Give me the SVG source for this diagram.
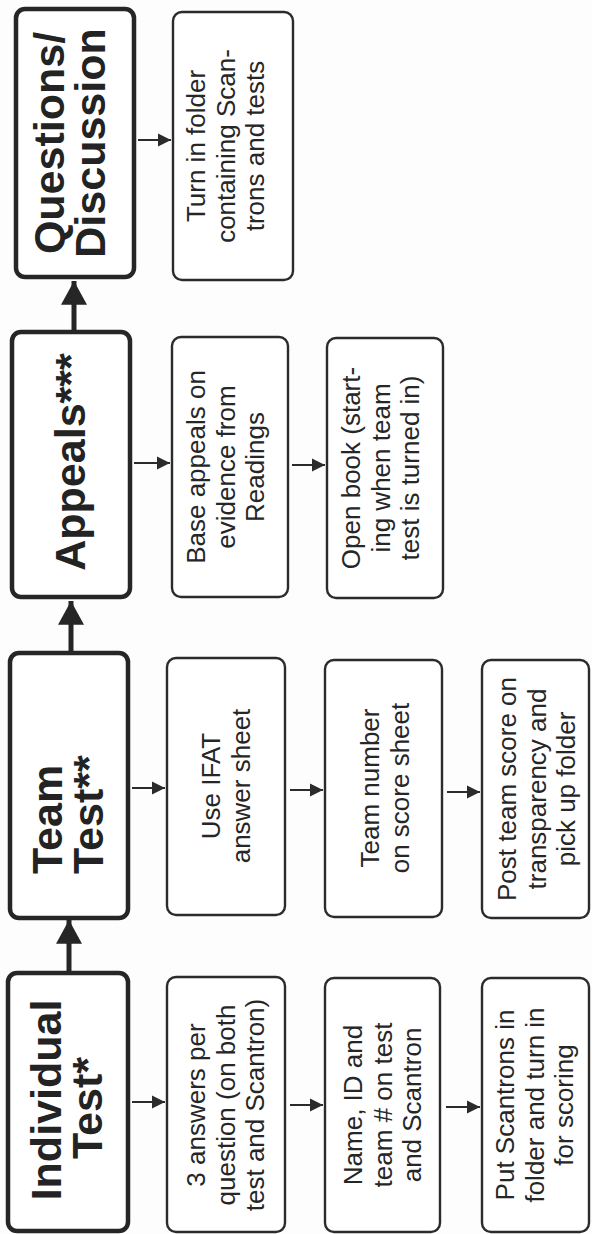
<svg xmlns="http://www.w3.org/2000/svg" width="592" height="1234" viewBox="0 0 592 1234">
<style>
.hdr{fill:#fff;stroke:#262626;stroke-width:4.5}
.sub{fill:#fff;stroke:#2b2b2b;stroke-width:2.4}
.ht{font-family:"Liberation Sans",Arial,sans-serif;font-weight:bold;font-size:43px;fill:#232323}
.st{font-family:"Liberation Sans",Arial,sans-serif;font-size:26px;fill:#262626;text-anchor:middle}
.big{stroke:#262626;stroke-width:5;fill:none}
.sm{stroke:#2b2b2b;stroke-width:2.2;fill:none}
</style>
<defs>
<marker id="bigHead" markerUnits="userSpaceOnUse" markerWidth="26" markerHeight="26" refX="22" refY="12" orient="auto" viewBox="0 0 24 24">
<path d="M0,0 L22,12 L0,24 Z" fill="#262626"/>
</marker>
<marker id="smHead" markerUnits="userSpaceOnUse" markerWidth="14" markerHeight="14" refX="13" refY="6.5" orient="auto" viewBox="0 0 14 13">
<path d="M0,0 L13,6.5 L0,13 Z" fill="#2b2b2b"/>
</marker>
</defs>
<rect width="592" height="1234" fill="#fdfdfd"/>

<g id="connectors">
<line class="big" x1="69" y1="971" x2="69" y2="920" marker-end="url(#bigHead)"/>
<line class="big" x1="71" y1="651" x2="71" y2="601" marker-end="url(#bigHead)"/>
<line class="big" x1="74" y1="330" x2="74" y2="281" marker-end="url(#bigHead)"/>

<line class="sm" x1="138" y1="140" x2="171" y2="140" marker-end="url(#smHead)"/>
<line class="sm" x1="134" y1="463" x2="170" y2="463" marker-end="url(#smHead)"/>
<line class="sm" x1="292" y1="465" x2="325" y2="465" marker-end="url(#smHead)"/>
<line class="sm" x1="132" y1="788" x2="165" y2="788" marker-end="url(#smHead)"/>
<line class="sm" x1="290" y1="790" x2="323" y2="790" marker-end="url(#smHead)"/>
<line class="sm" x1="447" y1="792" x2="480" y2="792" marker-end="url(#smHead)"/>
<line class="sm" x1="132" y1="1102" x2="165" y2="1102" marker-end="url(#smHead)"/>
<line class="sm" x1="290" y1="1105" x2="323" y2="1105" marker-end="url(#smHead)"/>
<line class="sm" x1="446" y1="1107" x2="480" y2="1107" marker-end="url(#smHead)"/>
</g>

<g id="individual-test">
<rect class="hdr" x="8" y="973" width="120" height="258" rx="9"/>
<g transform="translate(0,1100) rotate(-90)">
<text class="ht" x="0" y="61" text-anchor="middle">Individual</text>
<text class="ht" x="-8" y="102" text-anchor="middle">Test*</text>
</g>
</g>

<g id="team-test">
<rect class="hdr" x="10" y="653" width="118" height="265" rx="9"/>
<g transform="translate(0,874) rotate(-90)">
<text class="ht" x="0" y="62" text-anchor="start">Team</text>
<text class="ht" x="0" y="103" text-anchor="start">Test**</text>
</g>
</g>

<g id="appeals">
<rect class="hdr" x="12" y="332" width="118" height="265" rx="9"/>
<text class="ht" transform="translate(85,462) rotate(-90)" text-anchor="middle">Appeals***</text>
</g>

<g id="questions-discussion">
<rect class="hdr" x="16" y="9" width="118" height="268" rx="9"/>
<g transform="translate(0,143) rotate(-90)">
<text class="ht" x="0" y="64" text-anchor="middle">Questions/</text>
<text class="ht" x="0" y="105" text-anchor="middle">Discussion</text>
</g>
</g>

<g id="turn-in-folder">
<rect class="sub" x="173" y="12" width="120" height="268" rx="9"/>
<g transform="translate(0,146) rotate(-90)">
<text class="st" x="0" y="205">Turn in folder</text>
<text class="st" x="0" y="235">containing Scan-</text>
<text class="st" x="0" y="264">trons and tests</text>
</g>
</g>

<g id="base-appeals">
<rect class="sub" x="172" y="337" width="116" height="260" rx="9"/>
<g transform="translate(0,467) rotate(-90)">
<text class="st" x="0" y="205">Base appeals on</text>
<text class="st" x="0" y="235">evidence from</text>
<text class="st" x="0" y="264">Readings</text>
</g>
</g>

<g id="open-book">
<rect class="sub" x="327" y="338" width="116" height="260" rx="9"/>
<g transform="translate(0,468) rotate(-90)">
<text class="st" x="0" y="360">Open book (start-</text>
<text class="st" x="0" y="390">ing when team</text>
<text class="st" x="0" y="419">test is turned in)</text>
</g>
</g>

<g id="use-ifat">
<rect class="sub" x="167" y="658" width="118" height="257" rx="9"/>
<g transform="translate(0,786) rotate(-90)">
<text class="st" x="0" y="220">Use IFAT</text>
<text class="st" x="0" y="250">answer sheet</text>
</g>
</g>

<g id="team-number">
<rect class="sub" x="325" y="660" width="117" height="257" rx="9"/>
<g transform="translate(0,788) rotate(-90)">
<text class="st" x="0" y="379">Team number</text>
<text class="st" x="0" y="409">on score sheet</text>
</g>
</g>

<g id="post-team-score">
<rect class="sub" x="482" y="660" width="107" height="258" rx="9"/>
<g transform="translate(0,789) rotate(-90)">
<text class="st" x="0" y="516">Post team score on</text>
<text class="st" x="0" y="546">transparency and</text>
<text class="st" x="0" y="575">pick up folder</text>
</g>
</g>

<g id="three-answers">
<rect class="sub" x="167" y="977" width="118" height="255" rx="9"/>
<g transform="translate(0,1105) rotate(-90)">
<text class="st" x="0" y="205">3 answers per</text>
<text class="st" x="0" y="235">question (on both</text>
<text class="st" x="0" y="264">test and Scantron)</text>
</g>
</g>

<g id="name-id">
<rect class="sub" x="325" y="978" width="115" height="254" rx="9"/>
<g transform="translate(0,1105) rotate(-90)">
<text class="st" x="0" y="362">Name, ID and</text>
<text class="st" x="0" y="392">team # on test</text>
<text class="st" x="0" y="421">and Scantron</text>
</g>
</g>

<g id="put-scantrons">
<rect class="sub" x="482" y="978" width="107" height="254" rx="9"/>
<g transform="translate(0,1105) rotate(-90)">
<text class="st" x="0" y="514">Put Scantrons in</text>
<text class="st" x="0" y="544">folder and turn in</text>
<text class="st" x="0" y="573">for scoring</text>
</g>
</g>
</svg>
